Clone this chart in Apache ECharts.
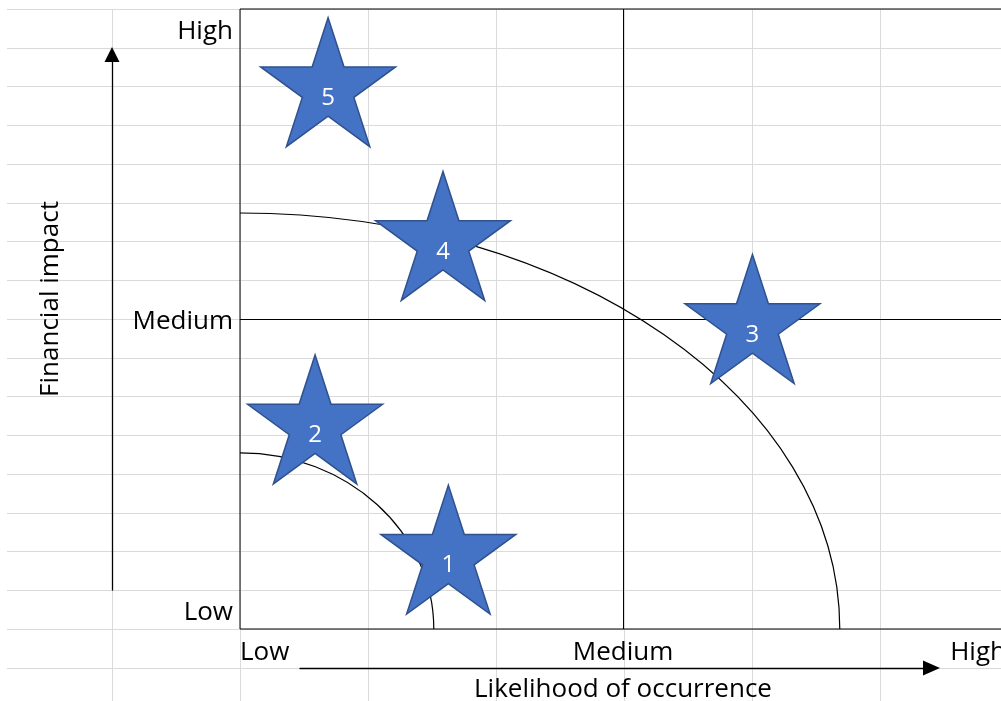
<!DOCTYPE html>
<html><head><meta charset="utf-8">
<script src="https://cdn.jsdelivr.net/npm/echarts@6/dist/echarts.min.js"></script>
<style>html,body{margin:0;padding:0;background:#fff}#c{width:1001px;height:701px}</style>
</head><body><div id="c"></div>
<script>
// ---- data ----
const riskIds = ['1', '2', '3', '4', '5'];
const riskLikelihood = [2.72, 0.98, 6.69, 2.65, 1.15];
const riskImpact = [1.28, 3.38, 5.0, 6.34, 8.82];
const levelLabels = ['Low', 'Medium', 'High'];
const curveRadiusX = [2.53, 7.83];
const curveRadiusY = [2.84, 6.71];

const FONT = "'Open Sans', 'Noto Sans', sans-serif";
const STAR = 'path://M50 0 L61.23 34.55 L97.55 34.55 L68.16 55.9 L79.39 90.45 L50 69.1 L20.61 90.45 L31.84 55.9 L2.45 34.55 L38.77 34.55 Z';

const chart = echarts.init(document.getElementById('c'), null, {renderer: 'canvas'});
const hiddenAxis = (g) => ({gridIndex: g, type: 'value', show: false, min: 0, max: 1, axisLine: {onZero: false}});
const arrowLine = (size) => ({show: true, onZero: false, symbol: ['none', 'triangle'], symbolSize: size,
  lineStyle: {color: '#000', width: 1.3}});
const sheetLine = {show: true, showMinLine: false, showMaxLine: false, lineStyle: {color: '#dadada', width: 1}};
const G = (o) => Object.assign({outerBoundsMode: 'none', containLabel: false}, o);

chart.setOption({
  animation: false,
  backgroundColor: '#fff',
  textStyle: {fontFamily: FONT},
  grid: [
    G({left: 7, width: 1000, top: 9, height: 700, show: false}),          // sheet rows
    G({left: 240, width: 766, top: 9, height: 620, show: true, borderColor: '#000', borderWidth: 1,
      backgroundColor: 'transparent', z: 2}),                              // plot
    G({left: 112, width: 1, top: 54.5, height: 535.5}),                   // y arrow
    G({left: 300, width: 631.5, top: 667, height: 1}),                    // x arrow
    G({left: -16, width: 1024, top: 9, height: 700, show: false})         // sheet columns
  ],
  xAxis: [
    hiddenAxis(0),
    {gridIndex: 1, type: 'value', min: 0, max: 10, interval: 5, z: 3,
      name: 'Likelihood of occurrence', nameLocation: 'middle', nameGap: 48,
      nameTextStyle: {fontSize: 26, color: '#000', fontFamily: FONT},
      axisLine: {show: false}, axisTick: {show: false},
      axisLabel: {fontSize: 26, color: '#000', fontFamily: FONT, margin: 11, alignMinLabel: 'left', alignMaxLabel: 'right',
        formatter: v => levelLabels[Math.round(v / 5)]},
      splitLine: {show: true, showMinLine: false, showMaxLine: false, lineStyle: {color: '#000', width: 1}}},
    hiddenAxis(2),
    Object.assign(hiddenAxis(3), {show: true, axisLine: arrowLine([15, 17]), axisTick: {show: false},
      axisLabel: {show: false}, splitLine: {show: false}}),
    {gridIndex: 4, type: 'value', min: 0, max: 1024, interval: 128, z: 0,
      axisLine: {show: false}, axisTick: {show: false}, axisLabel: {show: false}, splitLine: sheetLine}
  ],
  yAxis: [
    {gridIndex: 0, type: 'value', inverse: true, min: 0, max: 700, interval: 38.76, z: 0,
      axisLine: {show: false}, axisTick: {show: false}, axisLabel: {show: false},
      splitLine: Object.assign({}, sheetLine, {showMinLine: true})},
    {gridIndex: 1, type: 'value', min: 0, max: 10, interval: 5, z: 3,
      name: 'Financial impact', nameLocation: 'middle', nameGap: 176, nameRotate: 90,
      nameTextStyle: {fontSize: 26, color: '#000', fontFamily: FONT, padding: [0, 0, 0, 40]},
      axisLine: {show: false}, axisTick: {show: false},
      axisLabel: {fontSize: 26, color: '#000', fontFamily: FONT, margin: 7,
        customValues: [0.27, 4.96, 9.64],
        formatter: v => levelLabels[Math.round(v / 5)]},
      splitLine: {show: true, showMinLine: false, showMaxLine: false, lineStyle: {color: '#000', width: 1}}},
    Object.assign(hiddenAxis(2), {show: true, position: 'left', axisLine: arrowLine([15, 15]), axisTick: {show: false},
      axisLabel: {show: false}, splitLine: {show: false}}),
    hiddenAxis(3),
    hiddenAxis(4)
  ],
  series: [
    {type: 'custom', xAxisIndex: 1, yAxisIndex: 1, clip: true, silent: true, z: 3,
      data: curveRadiusX.map((rx, i) => [rx, curveRadiusY[i]]),
      renderItem: (params, api) => {
        const o = api.coord([0, 0]);
        const s = api.size([api.value(0), api.value(1)]);
        return {type: 'ellipse', shape: {cx: o[0], cy: o[1], rx: Math.abs(s[0]), ry: Math.abs(s[1])},
          style: {fill: 'none', stroke: '#000', lineWidth: 1.2}};
      }},
    {type: 'scatter', xAxisIndex: 1, yAxisIndex: 1, z: 5, clip: false, symbol: STAR, symbolSize: [135, 129],
      data: riskIds.map((id, i) => [riskLikelihood[i], riskImpact[i], id]),
      itemStyle: {color: '#4472C4', borderColor: '#2F528F', borderWidth: 1.5, opacity: 1},
      label: {show: true, position: 'inside', offset: [0, 16], color: '#fff', fontSize: 24, fontFamily: FONT,
        formatter: p => p.data[2]}}
  ]
});
</script></body></html>
